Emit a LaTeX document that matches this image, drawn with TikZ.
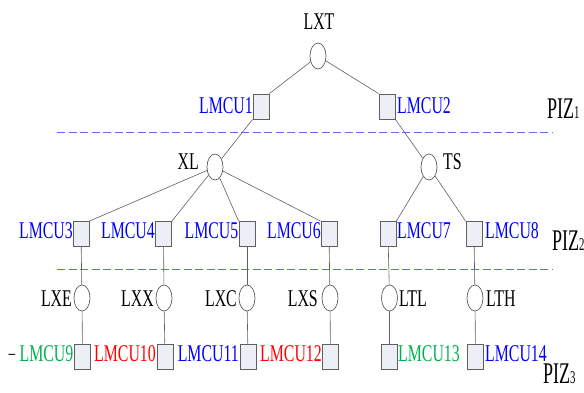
\documentclass[tikz,border=0pt]{standalone}
\usepackage{fontspec}
\setmainfont{Liberation Serif}[FakeStretch=0.66]
\newfontfamily\pizfont{Liberation Serif}[FakeStretch=0.6]
\usetikzlibrary{shapes.geometric}
\definecolor{lblue}{RGB}{0,0,255}
\definecolor{lred}{RGB}{255,0,0}
\definecolor{lgreen}{RGB}{0,176,80}
\definecolor{boxfill}{RGB}{236,239,245}
\definecolor{edge}{RGB}{95,95,95}
\definecolor{dashblue}{RGB}{90,110,255}
\tikzset{
  mbox/.style={draw=edge, fill=boxfill, line width=0.8pt, minimum width=16pt, minimum height=25pt, inner sep=0pt},
  circ/.style={ellipse, draw=edge, fill=white, line width=0.7pt, minimum width=16pt, minimum height=26pt, inner sep=0pt},
  lbl/.style={inner sep=0pt, font=\fontsize{24}{24}\selectfont},
  lblE/.style={lbl, anchor=base east},
  lblW/.style={lbl, anchor=base west},
  conn/.style={draw=edge, line width=0.6pt},
  sep/.style={draw=dashblue, line width=0.9pt, dash pattern=on 8pt off 3.5pt},
  piz/.style={inner sep=0pt, anchor=base west, font=\pizfont\fontsize{30}{30}\selectfont}
}
\begin{document}
\begin{tikzpicture}[x=1pt,y=-1pt]
\useasboundingbox (0,0) rectangle (584,392);
% separators
\coordinate (s1a) at (57,132); \coordinate (s1b) at (553,132);
\coordinate (s2a) at (57,269); \coordinate (s2b) at (553,269);
\draw[sep] (s1a) -- (s1b);
\draw[sep] (s2a) -- (s2b);
% level 0
\node[circ] (LXT) at (318,56) {};
\node[lbl, anchor=base] (tLXT) at (319,29) {LXT};
% level 1
\node[mbox] (b1) at (261,106.5) {};
\node[mbox] (b2) at (387,106.5) {};
\node[lblE, text=lblue] (t1) at (253,113) {LMCU1};
\node[lblW, text=lblue] (t2) at (397,113) {LMCU2};
% level 1.5
\node[circ] (XL) at (215,167) {};
\node[circ] (TS) at (429,167) {};
\node[lblE] (tXL) at (199,169) {XL};
\node[lblW] (tTS) at (443,169) {TS};
% level 2 boxes
\node[mbox] (b3) at (81,234) {};
\node[mbox] (b4) at (163.5,234) {};
\node[mbox] (b5) at (247,234) {};
\node[mbox] (b6) at (329,234) {};
\node[mbox] (b7) at (388,234) {};
\node[mbox] (b8) at (474,234) {};
\node[lblE, text=lblue] (t3) at (73,238) {LMCU3};
\node[lblE, text=lblue] (t4) at (155,238) {LMCU4};
\node[lblE, text=lblue] (t5) at (238.5,238) {LMCU5};
\node[lblE, text=lblue] (t6) at (321,238) {LMCU6};
\node[lblW, text=lblue] (t7) at (397,238) {LMCU7};
\node[lblW, text=lblue] (t8) at (485,238) {LMCU8};
% level 3 circles
\node[circ] (LXE) at (82,298) {};
\node[circ] (LXX) at (164,298) {};
\node[circ] (LXC) at (247,298) {};
\node[circ] (LXS) at (330,298) {};
\node[circ] (LTL) at (389.5,298) {};
\node[circ] (LTH) at (475,298) {};
\node[lblE] (tLXE) at (72,306) {LXE};
\node[lblE] (tLXX) at (154,306) {LXX};
\node[lblE] (tLXC) at (237,306) {LXC};
\node[lblE] (tLXS) at (318,306) {LXS};
\node[lblW] (tLTL) at (399,306) {LTL};
\node[lblW] (tLTH) at (486,306) {LTH};
% level 4 boxes
\node[mbox] (b9) at (82.5,356.5) {};
\node[mbox] (b10) at (165,356.5) {};
\node[mbox] (b11) at (248,356.5) {};
\node[mbox] (b12) at (330.5,356.5) {};
\node[mbox] (b13) at (389.5,356.5) {};
\node[mbox] (b14) at (475.5,356.5) {};
\node[lblE, text=lgreen] (t9) at (73.5,361) {LMCU9};
\node[lblE, text=lred] (t10) at (156,361) {LMCU10};
\node[lblE, text=lblue] (t11) at (239,361) {LMCU11};
\node[lblE, text=lred] (t12) at (322,361) {LMCU12};
\node[lblW, text=lgreen] (t13) at (398,361) {LMCU13};
\node[lblW, text=lblue] (t14) at (485,361) {LMCU14};
\node[lbl, anchor=base] (dash) at (12,359) {\fontsize{20}{20}\selectfont --};
% PIZ labels
\node[piz] (piz1) at (547,118) {PIZ{\fontsize{18}{18}\selectfont 1}};
\node[piz] (piz2) at (552,250) {PIZ{\fontsize{18}{18}\selectfont 2}};
\node[piz] (piz3) at (543,383) {PIZ{\fontsize{18}{18}\selectfont 3}};
% connectors
\draw[conn] (LXT) -- (b1.north east);
\draw[conn] (LXT) -- (b2.north west);
\draw[conn] (b1.south west) -- (XL);
\draw[conn] (b2.south east) -- (TS);
\draw[conn] (XL) -- (b3.north east);
\draw[conn] (XL) -- (b4.north east);
\draw[conn] (XL) -- (b5.north west);
\draw[conn] (XL) -- (b6.north west);
\draw[conn] (TS) -- (b7.north east);
\draw[conn] (TS) -- (b8.north west);
\draw[conn] (b3) -- (LXE);
\draw[conn] (b4) -- (LXX);
\draw[conn] (b5) -- (LXC);
\draw[conn] (b6) -- (LXS);
\draw[conn] (b7) -- (LTL);
\draw[conn] (b8) -- (LTH);
\draw[conn] (LXE) -- (b9);
\draw[conn] (LXX) -- (b10);
\draw[conn] (LXC) -- (b11);
\draw[conn] (LXS) -- (b12);
\draw[conn] (LTL) -- (b13);
\draw[conn] (LTH) -- (b14);
\end{tikzpicture}
\end{document}
